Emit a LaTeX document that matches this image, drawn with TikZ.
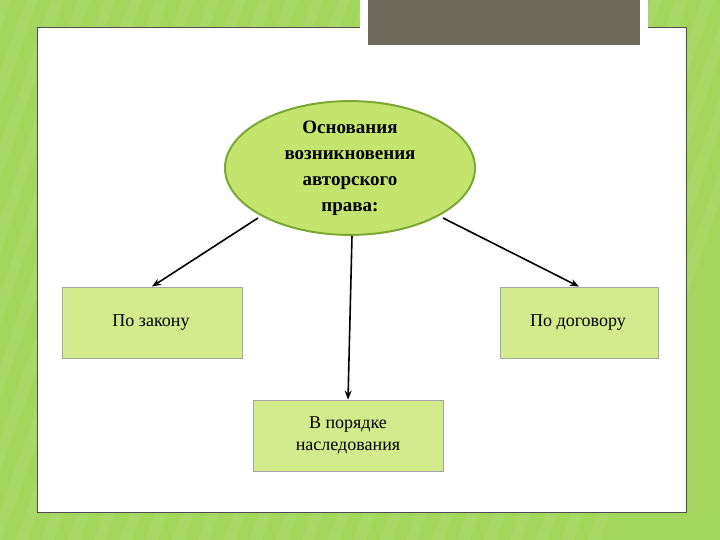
\documentclass[tikz,border=0pt]{standalone}
\usepackage{fontspec}
\setmainfont{Liberation Serif}
\usetikzlibrary{shapes.geometric,arrows.meta}
\definecolor{bggreen}{HTML}{A4D65E}
\definecolor{ellfill}{HTML}{C4E46E}
\definecolor{elldraw}{HTML}{7BA732}
\definecolor{boxfill}{HTML}{D3EB8C}
\definecolor{topgray}{HTML}{6E6A5C}
\tikzset{
  sqbox/.style={draw=gray!70,fill=boxfill,line width=0.8pt},
  txt/.style={font=\fontsize{18}{22}\selectfont,align=center},
  arr/.style={-{Stealth[length=9pt,width=7pt]},line width=1.6pt,black}
}
\begin{document}
\begin{tikzpicture}[x=1pt,y=-1pt]
\useasboundingbox (0,0) rectangle (720,540);
\fill[bggreen] (0,0) rectangle (720,540);
\foreach \i in {0,...,30}{\fill[white,opacity=0.06] (\i*26,0) -- (\i*26+12,0) -- (\i*26-180,540) -- (\i*26-192,540) -- cycle;}
\fill[white] (37,27) rectangle (686,512);
\draw[gray!60!black,line width=0.6pt] (37,27) rectangle (686,512);
\fill[white] (360,0) rectangle (648,52);
\fill[topgray] (368,0) rectangle (640,45);
\node[ellipse,draw=elldraw,fill=ellfill,line width=2pt,minimum width=250pt,minimum height=132pt,inner sep=0pt,align=center,font=\bfseries\fontsize{19}{26}\selectfont] (e) at (350,168) {Основания\\возникновения\\авторского\\права:};
\node[sqbox,minimum width=180pt,minimum height=71pt] (l) at (152,322.5) {};
\node[txt] (lt) at (151,323) {По закону};
\node[sqbox,minimum width=158pt,minimum height=71pt] (r) at (579,322.5) {};
\node[txt] (rt) at (578,323) {По договору};
\node[sqbox,minimum width=190pt,minimum height=71pt,txt] (b) at (348,435.5) {В порядке\\наследования};
\coordinate (e1) at (258,218);
\coordinate (e2) at (352,236);
\coordinate (e3) at (443,218);
\draw[arr] (e1) -- (l.north);
\draw[arr] (e2) -- (b.north);
\draw[arr] (e3) -- (r.north);
\end{tikzpicture}
\end{document}
